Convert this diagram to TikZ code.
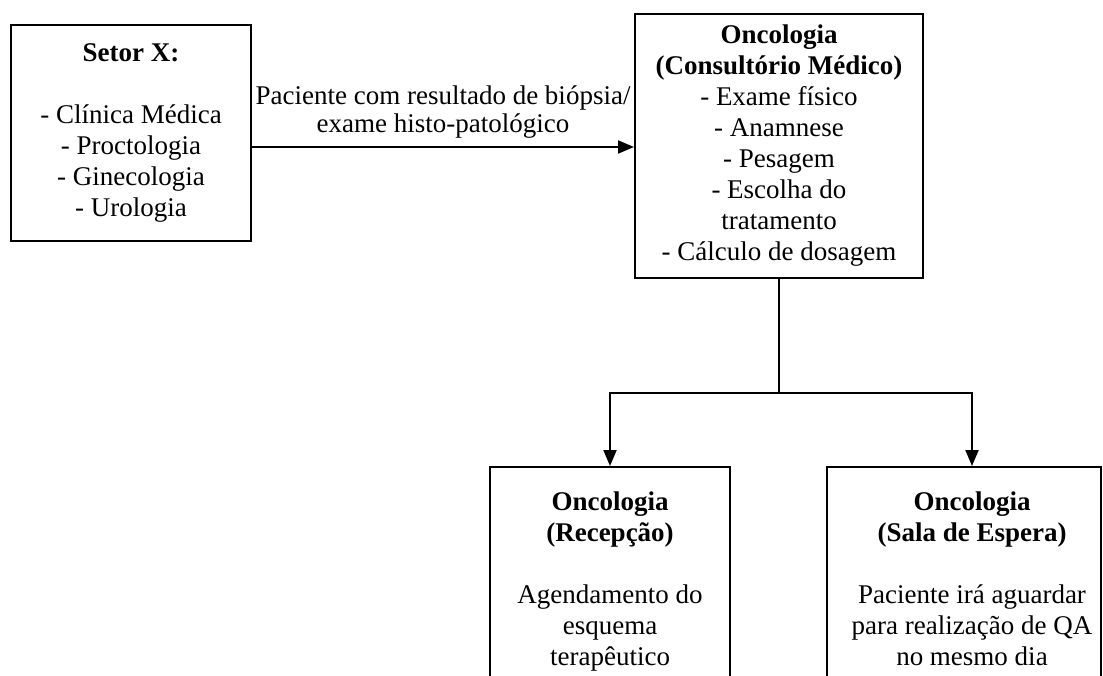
\documentclass[tikz,border=0pt]{standalone}
\usepackage{fontspec}
\setmainfont{Liberation Serif}
\usetikzlibrary{arrows.meta,calc}
\begin{document}
\begin{tikzpicture}[x=1pt,y=-1pt,
  every node/.style={font=\fontsize{27}{31}\selectfont, inner sep=0pt},
  box/.style={draw, line width=2pt, rectangle, align=center},
  lbl/.style={align=center},
  conn/.style={line width=2pt},
  arr/.style={line width=2pt, -{Triangle[length=16pt,width=13pt]}},
]
\clip (0,0) rectangle (1103,675);
\fill[white] (0,0) rectangle (1103,675);

\node[box, minimum width=240pt, minimum height=216pt] (setor) at (131,133)
  {\textbf{Setor X:}\\[31pt]- Clínica Médica\\- Proctologia\\- Ginecologia\\- Urologia};

\node[box, minimum width=288pt, minimum height=264pt] (cons) at (779,146)
  {\textbf{Oncologia}\\\textbf{(Consultório Médico)}\\- Exame físico\\- Anamnese\\- Pesagem\\- Escolha do\\tratamento\\- Cálculo de dosagem};

\node[draw, line width=2pt, minimum width=240pt, minimum height=260pt, anchor=north] (recep) at (610,466) {};
\node[lbl, anchor=north] (recept) at (610,492)
  {\textbf{Oncologia}\\\textbf{(Recepção)}\\[31pt]Agendamento do\\esquema\\terapêutico};

\node[draw, line width=2pt, minimum width=274pt, minimum height=260pt, anchor=north] (sala) at (964,466) {};
\node[lbl, anchor=north] (salat) at (972,492)
  {\textbf{Oncologia}\\\textbf{(Sala de Espera)}\\[31pt]Paciente irá aguardar\\para realização de QA\\no mesmo dia};

\draw[arr] ([yshift=-14pt]setor.east) -- ([yshift=-14pt]setor.east -| cons.west)
  node[midway, above=8pt, lbl, font=\fontsize{27}{28}\selectfont] (lab)
  {Paciente com resultado de biópsia/\\exame histo-patológico};

\coordinate (split) at (779,393);
\draw[conn] (cons.south) -- (split);
\draw[arr] (split) -| (salat.north |- sala.north);
\draw[arr] (split) -| (recep.north);
\end{tikzpicture}
\end{document}
